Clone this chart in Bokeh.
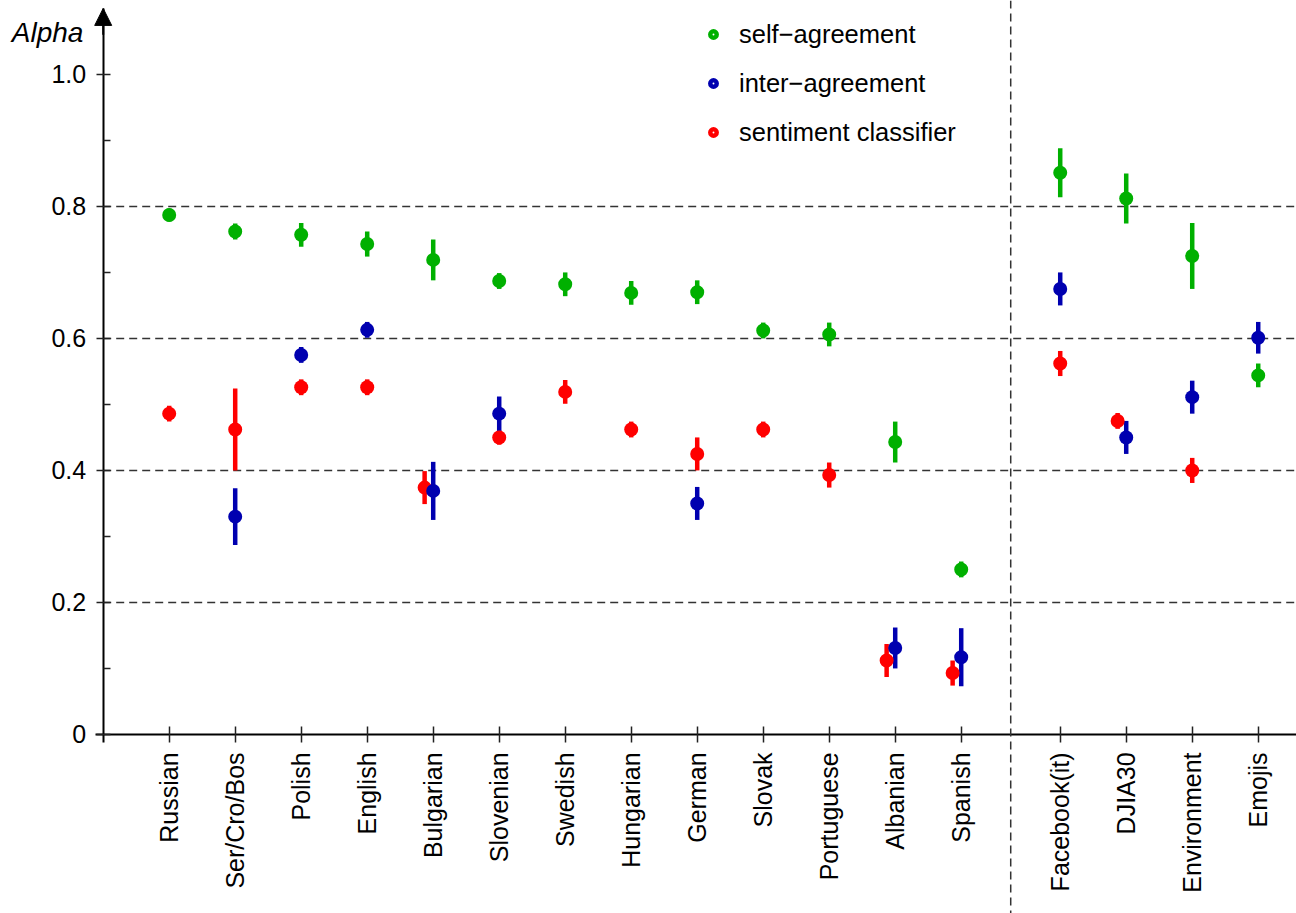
import math
from bokeh.plotting import figure
from bokeh.models import (Range1d, FixedTicker, Span, Arrow, NormalHead, Label,
                          Legend, LegendItem, ColumnDataSource)
from bokeh.embed import file_html
from bokeh.resources import INLINE

nan = float("nan")

# ---------------- data ----------------
categories = ["Russian", "Ser/Cro/Bos", "Polish", "English", "Bulgarian", "Slovenian",
              "Swedish", "Hungarian", "German", "Slovak", "Portuguese", "Albanian",
              "Spanish", "Facebook(it)", "DJIA30", "Environment", "Emojis"]
n_languages = 13  # first group; the rest are domain datasets

self_agreement = [0.787, 0.762, 0.757, 0.743, 0.719, 0.687, 0.682, 0.669, 0.670,
                  0.612, 0.606, 0.443, 0.250, 0.851, 0.812, 0.725, 0.544]
self_err = [0.010, 0.012, 0.018, 0.019, 0.031, 0.012, 0.018, 0.018, 0.018,
            0.012, 0.018, 0.031, 0.012, 0.037, 0.038, 0.050, 0.018]

inter_agreement = [nan, 0.330, 0.575, 0.613, 0.369, 0.486, nan, nan, 0.350,
                   nan, nan, 0.131, 0.117, 0.675, 0.450, 0.511, 0.601]
inter_err = [nan, 0.043, 0.012, 0.012, 0.044, 0.026, nan, nan, 0.025,
             nan, nan, 0.031, 0.044, 0.025, 0.025, 0.025, 0.024]

classifier = [0.486, 0.462, 0.526, 0.526, 0.374, 0.450, 0.519, 0.462, 0.425,
              0.462, 0.393, 0.112, 0.093, 0.562, 0.475, 0.400, nan]
classifier_err = [0.012, 0.062, 0.012, 0.012, 0.025, 0.011, 0.018, 0.012, 0.025,
                  0.012, 0.019, 0.025, 0.019, 0.019, 0.012, 0.019, nan]

# categories where the classifier point is dodged left of the inter-agreement point
classifier_dodged = ["Bulgarian", "Albanian", "Spanish", "DJIA30"]

series_names = ["self\u2212agreement", "inter\u2212agreement", "sentiment classifier"]

y_ticks = [0, 0.2, 0.4, 0.6, 0.8, 1.0]
y_tick_labels = ["0", "0.2", "0.4", "0.6", "0.8", "1.0"]
y_minor_ticks = [0.1, 0.3, 0.5, 0.7, 0.9]
grid_levels = [0.2, 0.4, 0.6, 0.8]

# ---------------- style ----------------
FONT = "Liberation Sans"
GREEN, BLUE, RED = "#00b000", "#0000b0", "#ff0000"
DASH_COLOR = "#333333"
DODGE = 0.13
X_START, X_END = -1.556, 18.08
Y_START, Y_END = -0.2713, 1.112

xpos = [i + 1 if i < n_languages else i + 1.5 for i in range(len(categories))]
sep_x = (xpos[n_languages - 1] + xpos[n_languages]) / 2

p = figure(width=1296, height=913, output_backend="svg", toolbar_location=None,
           x_range=Range1d(X_START, X_END), y_range=Range1d(Y_START, Y_END),
           min_border=0)
p.outline_line_color = None
p.grid.visible = False
p.background_fill_color = "white"
p.border_fill_color = "white"

# dashed reference lines
p.segment(x0=0, y0=grid_levels, x1=X_END, y1=grid_levels,
          line_color=DASH_COLOR, line_width=1.5, line_dash="8 5")
p.add_layout(Span(location=sep_x, dimension="height", line_color=DASH_COLOR,
                  line_width=1.5, line_dash="8 5"))


def make_source(values, errs, dodge_list=()):
    xs, ys, lo, hi = [], [], [], []
    for c, x, v, e in zip(categories, xpos, values, errs):
        if math.isnan(v):
            continue
        xx = x - DODGE if c in dodge_list else x
        xs.append(xx); ys.append(v); lo.append(v - e); hi.append(v + e)
    return ColumnDataSource(dict(x=xs, y=ys, lo=lo, hi=hi))


src_self = make_source(self_agreement, self_err)
src_inter = make_source(inter_agreement, inter_err)
src_cls = make_source(classifier, classifier_err, classifier_dodged)

for src, col in [(src_self, GREEN), (src_cls, RED), (src_inter, BLUE)]:
    p.segment(x0="x", y0="lo", x1="x", y1="hi", source=src, line_color=col,
              line_width=4.5, line_cap="butt")
for src, col in [(src_self, GREEN), (src_cls, RED), (src_inter, BLUE)]:
    p.scatter(x="x", y="y", source=src, marker="circle", size=14,
              fill_color=col, line_color=None)

# ---------------- axes ----------------
xa = p.xaxis[0]
xa.fixed_location = 0
xa.bounds = (-0.12, X_END)
xa.ticker = FixedTicker(ticks=xpos)
xa.major_label_overrides = {x: c for x, c in zip(xpos, categories)}
xa.major_label_orientation = math.pi / 2
xa.major_tick_in = 8
xa.major_tick_out = 8
xa.minor_tick_line_color = None
xa.axis_line_width = 2
xa.axis_line_color = "black"
xa.major_tick_line_width = 1.5
xa.major_tick_line_color = "#222222"
xa.major_label_text_font = FONT
xa.major_label_text_font_size = "25px"
xa.major_label_text_color = "black"
xa.major_label_standoff = 10

ya = p.yaxis[0]
ya.fixed_location = 0
ya.bounds = (-0.012, 1.1)
ya.ticker = FixedTicker(ticks=y_ticks, minor_ticks=y_minor_ticks)
ya.major_label_overrides = dict(zip(y_ticks, y_tick_labels))
ya.major_tick_in = 7
ya.major_tick_out = 7
ya.minor_tick_in = 7
ya.minor_tick_out = 0
ya.axis_line_width = 2
ya.axis_line_color = "black"
ya.major_tick_line_width = 1.5
ya.major_tick_line_color = "#222222"
ya.minor_tick_line_width = 1.5
ya.minor_tick_line_color = "#222222"
ya.major_label_text_font = FONT
ya.major_label_text_font_size = "25px"
ya.major_label_text_color = "black"
ya.major_label_standoff = 10

p.add_layout(Arrow(end=NormalHead(size=17, fill_color="black", line_color="black"),
                   x_start=0, y_start=1.06, x_end=0, y_end=1.1,
                   line_width=2, line_color="black"))
p.add_layout(Label(x=-0.3, y=1.064, text="Alpha", text_align="right",
                   text_baseline="middle", text_font=FONT, text_font_style="italic",
                   text_font_size="28px", text_color="black"))

# ---------------- legend ----------------
items = []
for name, col in zip(series_names, [GREEN, BLUE, RED]):
    r = p.scatter(x=[nan], y=[nan], marker="circle", size=7, fill_color="white",
                  line_color=col, line_width=4.5)
    items.append(LegendItem(label=name, renderers=[r]))
legend = Legend(items=items, location=(705, 766), orientation="vertical",
                glyph_width=16, glyph_height=30, label_height=30,
                label_standoff=18, spacing=19, padding=0, margin=0,
                border_line_color=None, background_fill_alpha=0,
                label_text_font=FONT, label_text_font_size="25.5px",
                label_text_color="black")
p.add_layout(legend)

open("out.html", "w").write(file_html(p, INLINE))
